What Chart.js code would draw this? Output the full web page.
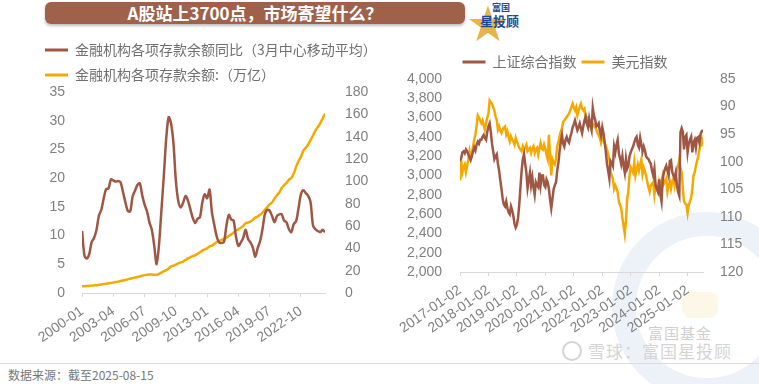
<!DOCTYPE html>
<html lang="zh-CN">
<head>
<meta charset="UTF-8">
<title>A股站上3700点，市场寄望什么？</title>
<script src="https://cdn.jsdelivr.net/npm/chart.js"></script>
<style>
  body { margin: 0; width: 759px; height: 384px; overflow: hidden; position: relative; background: #fff;
         font-family: "Noto Sans CJK SC", sans-serif; }
  .banner { position: absolute; left: 45px; top: 2px; width: 420px; height: 22px; background: #a0614b;
            border-radius: 6px; box-shadow: 0 2px 3px rgba(0,0,0,0.25); color: #fff; font-weight: bold;
            font-size: 17px; line-height: 22px; text-align: center; }
  .logo { position: absolute; left: 468px; top: 0px; width: 50px; height: 36px; white-space: nowrap; }
  .logo .star { position: absolute; left: 0; top: -8px; font-size: 40px; color: #e8b34a; }
  .logo .t1 { position: absolute; left: 24px; top: 3px; font-size: 9px; line-height: 10px; color: #1d4b9b; font-weight: bold; }
  .logo .t2 { position: absolute; left: 12px; top: 13px; font-size: 13px; line-height: 15px; color: #1d4b9b; font-weight: bold; }
  .wm-ring { position: absolute; left: 612px; top: 212px; width: 190px; height: 190px; border-radius: 50%;
             border: 24px solid rgba(210,222,238,0.4); box-sizing: border-box; }
  .wm-gold { position: absolute; left: 682px; top: 292px; width: 36px; height: 26px; background: rgba(250,238,205,0.45);
             border-radius: 8px; }
  .wm1 { position: absolute; left: 648px; top: 324px; font-size: 15px; line-height: 18px; color: #cfcfcf;
         letter-spacing: 1px; white-space: nowrap; }
  .wm2 { position: absolute; left: 588px; top: 340px; font-size: 17px; line-height: 22px; color: #d4d4d4;
         letter-spacing: 1px; white-space: nowrap; }
  .wm-circ { position: absolute; left: 562px; top: 341px; width: 20px; height: 20px; border: 2px solid #d4d4d4;
             border-radius: 50%; box-sizing: border-box; }
  .rule { position: absolute; left: 0; top: 363px; width: 759px; height: 1px; background: #dedede; }
  .source { position: absolute; left: 8px; top: 366px; font-size: 12px; color: #777; white-space: nowrap; }
  #left { position: absolute; left: 34px; top: 32px; }
  #right { position: absolute; left: 385px; top: 50px; }
</style>
</head>
<body>
<div class="wm-ring"></div>
<div class="wm-gold"></div>
<div class="wm1">富国基金</div>
<div class="wm-circ"></div>
<div class="wm2">雪球：富国星投顾</div>
<div class="banner">A股站上3700点，市场寄望什么？</div>
<div class="logo"><span class="star">★</span><span class="t1">富国</span><span class="t2">星投顾</span></div>
<canvas id="left" width="346" height="317"></canvas>
<canvas id="right" width="360" height="295"></canvas>
<div class="rule"></div>
<div class="source">数据来源：截至2025-08-15</div>
<script>
// 左图：季度数据，2000-01 起
const depTickLabels = ['2000-01', '2003-04', '2006-07', '2009-10', '2013-01', '2016-04', '2019-07', '2022-10'];
const depositYoY = [
  10.8, 6.5, 6.0, 6.8, 8.9, 9.6, 11.0, 13.5, 14.5, 16.5,
  18.1, 18.2, 19.8, 19.6, 19.4, 19.5, 19.3, 17.6, 15.8, 14.3,
  14.2, 16.8, 17.8, 18.8, 19.1, 17.0, 15.4, 14.2, 12.3, 11.0,
  8.2, 5.0, 8.5, 14.5, 20.5, 27.0, 30.6, 29.5, 26.0, 19.5,
  16.0, 14.9, 15.7, 16.9, 16.1, 14.6, 13.1, 12.2, 12.9, 13.2,
  15.8, 17.2, 16.5, 18.0, 14.0, 11.8, 9.8, 8.8, 8.7, 8.9,
  11.7, 13.6, 12.8, 12.6, 9.8, 8.2, 8.8, 9.6, 11.0, 9.4,
  8.8, 7.9, 6.3, 7.8, 9.0, 11.1, 13.7, 14.5, 14.3, 13.4,
  12.3, 13.4, 13.7, 13.7, 12.6, 12.3, 11.1, 10.6, 12.0, 12.5,
  14.8, 17.2, 17.9, 17.4, 16.9, 15.8, 11.8, 11.1, 10.8, 10.6,
  11.0, 10.6
];
const depositBalance = [
  6.0, 6.1, 6.2, 6.4, 6.6, 6.8, 7.0, 7.3, 7.6, 8.0, 8.3, 8.7,
  9.0, 9.4, 9.8, 10.2, 10.7, 11.2, 11.7, 12.2, 12.8, 13.4, 13.9, 14.4,
  14.9, 15.5, 16.0, 16.4, 16.6, 16.5, 16.3, 16.4, 17.2, 18.3, 19.5, 20.5,
  22.0, 23.8, 24.5, 25.5, 26.5, 27.4, 28.2, 29.5, 31.0, 32.0, 33.0, 33.8,
  35.0, 36.5, 38.0, 39.0, 40.0, 41.8, 42.5, 44.0, 45.7, 46.5, 47.5, 48.5,
  49.6, 51.0, 52.5, 54.0, 56.0, 57.0, 58.5, 60.0, 62.5, 63.0, 64.0, 65.5,
  67.5, 68.5, 70.0, 72.0, 74.5, 77.0, 79.5, 81.0, 84.5, 87.5, 90.0, 94.0,
  96.5, 98.5, 101.5, 103.0, 107.0, 113.0, 118.0, 122.0, 127.5, 130.0, 133.0, 137.0,
  141.0, 145.5, 148.5, 152.0, 156.0, 160.8
];

// 右图：半月数据，2017-01 起
const idxTickLabels = ['2017-01-02', '2018-01-02', '2019-01-02', '2020-01-02', '2021-01-02',
                       '2022-01-02', '2023-01-02', '2024-01-02', '2025-01-02'];
const sse = [
  3150, 3180, 3240, 3250, 3230, 3270, 3250, 3220, 3190, 3160,
  3200, 3250, 3290, 3260, 3320, 3350, 3330, 3370, 3370, 3400,
  3420, 3390, 3370, 3450, 3510, 3540, 3450, 3330, 3250, 3170,
  3200, 3220, 3120, 3050, 2950, 2860, 2760, 2700, 2680, 2730,
  2660, 2620, 2600, 2680, 2640, 2580, 2500, 2460, 2490, 2560,
  2700, 2880, 3050, 3170, 3220, 3120, 3030, 2870, 2950, 3030,
  2900, 2980, 2880, 2800, 2930, 2900, 2880, 3030, 2900, 3000,
  3000, 2900, 2880, 2960, 2930, 2860, 2750, 2660, 2760, 2860,
  2900, 2930, 3050, 3130, 3250, 3350, 3420, 3330, 3300, 3370,
  3400, 3360, 3340, 3400, 3440, 3500, 3530, 3570, 3520, 3470,
  3500, 3540, 3490, 3440, 3510, 3570, 3610, 3540, 3500, 3590,
  3520, 3470, 3700, 3620, 3580, 3510, 3520, 3540, 3460, 3410,
  3500, 3440, 3350, 3250, 3120, 3050, 2970, 3150, 3130, 3100,
  3300, 3240, 3320, 3370, 3230, 3180, 3120, 3200, 3100, 3030,
  3170, 3070, 3100, 3200, 3240, 3270, 3300, 3340, 3380, 3400,
  3320, 3290, 3390, 3320, 3250, 3300, 3260, 3200, 3180, 3170,
  3140, 3120, 3050, 3000, 3070, 2900, 2860, 2830, 2960, 2800,
  2730, 2960, 3030, 3070, 3100, 3050, 3000, 3150, 3160, 3040,
  3000, 2970, 3030, 2900, 2830, 2790, 3450, 3490, 3450, 3270,
  3400, 3420, 3240, 3330, 3370, 3400, 3240, 3340, 3370, 3290,
  3390, 3400, 3340, 3430, 3460, 3470
];
const dxy = [
  103.4, 99.8, 101.9, 101.0, 100.5, 101.9, 100.8, 99.6, 98.1, 99.3,
  98.5, 97.2, 96.0, 95.1, 93.6, 91.6, 92.0, 92.5, 93.0, 92.5,
  93.4, 94.2, 93.0, 92.0, 91.3, 88.9, 89.2, 89.5, 90.1, 90.7,
  91.8, 92.5, 94.2, 93.6, 94.4, 94.8, 94.2, 93.8, 93.6, 95.1,
  94.5, 95.5, 96.3, 95.4, 96.0, 96.3, 96.9, 95.7, 96.4, 96.9,
  97.5, 97.8, 98.1, 97.2, 97.8, 97.4, 96.9, 98.1, 97.8, 97.5,
  98.4, 97.6, 97.2, 98.4, 97.8, 97.5, 98.7, 97.5, 96.6, 97.6,
  97.8, 96.9, 97.6, 98.8, 99.6, 95.1, 99.0, 102.5, 99.6, 100.2,
  100.5, 99.4, 97.2, 96.5, 95.4, 94.6, 94.0, 92.8, 92.5, 92.2,
  91.9, 91.6, 91.3, 90.7, 90.1, 89.5, 90.2, 90.7, 90.1, 91.6,
  90.8, 90.1, 89.5, 90.4, 90.7, 90.4, 92.2, 91.9, 92.0, 92.8,
  92.6, 92.5, 93.6, 93.3, 93.7, 94.2, 94.8, 95.2, 95.7, 96.6,
  95.7, 95.9, 96.6, 97.2, 97.8, 98.6, 99.6, 101.9, 102.5, 103.1,
  104.9, 104.3, 104.8, 105.5, 107.2, 107.8, 108.4, 110.2, 111.6, 113.1,
  110.8, 106.8, 105.4, 102.5, 101.0, 101.4, 101.9, 100.1, 102.5, 101.4,
  100.5, 101.6, 100.6, 99.6, 102.2, 101.1, 101.8, 102.5, 103.7, 104.6,
  105.4, 104.3, 104.0, 103.7, 106.0, 104.3, 104.8, 105.4, 103.7, 104.6,
  103.5, 102.5, 104.0, 103.6, 103.1, 105.4, 104.2, 103.7, 104.9, 103.6,
  103.1, 104.3, 102.5, 101.5, 100.8, 99.6, 101.2, 101.9, 104.9, 107.2,
  107.6, 107.8, 109.3, 107.8, 107.2, 106.6, 104.9, 102.5, 101.9, 100.8,
  99.9, 99.0, 97.8, 96.9, 96.0, 97.2
];

const BROWN = '#9f5743';
const GOLD = '#f5a900';
const GRID = '#d9d9d9';

Chart.defaults.font.family = '"Liberation Sans", "Noto Sans CJK SC", sans-serif';
Chart.defaults.font.size = 14;
Chart.defaults.color = '#808080';

const toXY = arr => arr.map((v, i) => ({ x: i, y: v }));

// 图例：细线样式
const legendLabels = (padding) => ({
  font: { family: '"Noto Sans CJK SC", sans-serif', size: 14 },
  color: '#707070',
  boxWidth: 23,
  boxHeight: 3,
  padding: padding,
  generateLabels: chart => Chart.defaults.plugins.legend.labels.generateLabels(chart)
    .map(l => Object.assign(l, { lineWidth: 0, fillStyle: l.strokeStyle }))
});

new Chart(document.getElementById('left'), {
  type: 'line',
  data: {
    datasets: [
      { label: '金融机构各项存款余额同比（3月中心移动平均）', data: toXY(depositYoY), yAxisID: 'y',
        borderColor: BROWN, borderWidth: 2.5, pointRadius: 0, tension: 0.3 },
      { label: '金融机构各项存款余额:（万亿）', data: toXY(depositBalance), yAxisID: 'y1',
        borderColor: GOLD, borderWidth: 2.5, pointRadius: 0, tension: 0.2 }
    ]
  },
  options: {
    responsive: false,
    animation: false,
    plugins: {
      legend: { align: 'start', labels: legendLabels(11) },
      tooltip: { enabled: false }
    },
    scales: {
      x: {
        type: 'linear', min: 0, max: depositYoY.length - 1,
        afterFit: s => { s.height = 56; },
        grid: { drawOnChartArea: false, color: GRID, tickLength: 4 },
        border: { color: GRID },
        ticks: { stepSize: 13, includeBounds: false, autoSkip: false, minRotation: 35, maxRotation: 35,
                 padding: 6, callback: v => depTickLabels[v / 13] }
      },
      y: {
        position: 'left', min: 0, max: 35,
        afterFit: s => { s.width = 47; },
        grid: { display: false }, border: { display: false },
        ticks: { stepSize: 5, padding: 9, autoSkip: false }
      },
      y1: {
        position: 'right', min: 0, max: 180,
        afterFit: s => { s.width = 55; },
        grid: { display: false }, border: { display: false },
        ticks: { stepSize: 20, padding: 12, autoSkip: false }
      }
    }
  }
});

new Chart(document.getElementById('right'), {
  type: 'line',
  data: {
    datasets: [
      { label: '上证综合指数', data: toXY(sse), yAxisID: 'y',
        borderColor: BROWN, borderWidth: 2.5, pointRadius: 0 },
      { label: '美元指数', data: toXY(dxy), yAxisID: 'y1',
        borderColor: GOLD, borderWidth: 2.5, pointRadius: 0 }
    ]
  },
  options: {
    responsive: false,
    animation: false,
    locale: 'en-US',
    layout: { padding: { top: 0 } },
    plugins: {
      legend: { align: 'center', labels: legendLabels(5) },
      tooltip: { enabled: false }
    },
    scales: {
      x: {
        type: 'linear', min: 0, max: sse.length - 1,
        afterFit: s => { s.height = 73; },
        grid: { drawOnChartArea: false, color: GRID, tickLength: 4 },
        border: { color: GRID },
        ticks: { stepSize: 24, includeBounds: false, autoSkip: false, minRotation: 35, maxRotation: 35,
                 padding: 6, callback: v => idxTickLabels[v / 24] }
      },
      y: {
        position: 'left', min: 2000, max: 4000,
        afterFit: s => { s.width = 75; },
        grid: { display: false }, border: { display: false },
        ticks: { stepSize: 200, padding: 10, autoSkip: false }
      },
      y1: {
        position: 'right', min: 85, max: 120, reverse: true,
        afterFit: s => { s.width = 42; },
        grid: { display: false }, border: { display: false },
        ticks: { stepSize: 5, padding: 9, autoSkip: false }
      }
    }
  }
});
</script>
</body>
</html>
